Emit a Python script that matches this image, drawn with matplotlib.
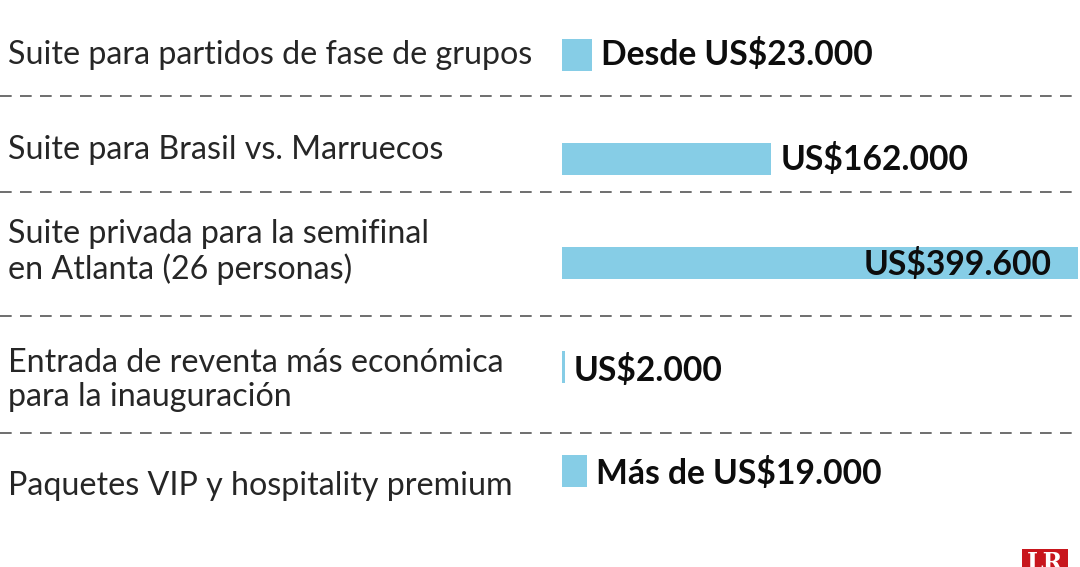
import matplotlib
matplotlib.use("Agg")
import matplotlib.pyplot as plt
from matplotlib.transforms import blended_transform_factory, ScaledTranslation
from matplotlib.patches import Rectangle

# ---- data ----
categories = [
    "Suite para partidos de fase de grupos",
    "Suite para Brasil vs. Marruecos",
    "Suite privada para la semifinal\nen Atlanta (26 personas)",
    "Entrada de reventa más económica\npara la inauguración",
    "Paquetes VIP y hospitality premium",
]
values = [23000, 162000, 399600, 2000, 19000]
value_labels = [
    "Desde US$23.000",
    "US$162.000",
    "US$399.600",
    "US$2.000",
    "Más de US$19.000",
]

# ---- layout ----
W, H, DPI = 1080, 567, 100
bar_color = "#86cde6"
label_offsets_px = [0, -9, -11, 13, 15]       # vertical shift of labels vs bar centre
value_offsets_px = [-1, 0, 1, 3, 2]
separators = [0.394, 1.317, 2.51, 3.635]      # between-row dashed lines (row units)
inside = [False, False, True, False, False]

fig = plt.figure(figsize=(W / DPI, H / DPI), dpi=DPI)
fig.patch.set_facecolor("white")
x0, x1 = 562 / W, 1078 / W
ax = fig.add_axes([x0, 0, x1 - x0, 1])
ax.set_xlim(0, max(values))
ax.set_ylim(4.923, -0.529)
ax.axis("off")

ypos = list(range(len(values)))
ax.barh(ypos, values, height=0.317, color=bar_color, edgecolor="none")

label_font = dict(family=["Lato", "DejaVu Sans"], weight="normal", size=23.2, color="#262626")
value_font = dict(family=["Lato", "DejaVu Sans"], weight="bold", size=24.2, color="#0d0d0d")

lab_tr = blended_transform_factory(fig.transFigure, ax.transData)
for i, (cat, off) in enumerate(zip(categories, label_offsets_px)):
    tr = lab_tr + ScaledTranslation(0, -off / DPI, fig.dpi_scale_trans)
    ax.text(8 / W, i, cat, transform=tr, ha="left", va="center",
            linespacing=1.18, **label_font)

for i, (v, lab, ins, off) in enumerate(zip(values, value_labels, inside, value_offsets_px)):
    if ins:
        tr = ax.transData + ScaledTranslation(-26 / DPI, -off / DPI, fig.dpi_scale_trans)
        ax.text(v, i, lab, transform=tr, ha="right", va="center", **value_font)
    else:
        tr = ax.transData + ScaledTranslation(9 / DPI, -off / DPI, fig.dpi_scale_trans)
        ax.text(v, i, lab, transform=tr, ha="left", va="center", **value_font)

sep_tr = blended_transform_factory(fig.transFigure, ax.transData)
for s in separators:
    ax.plot([0, 1], [s, s], transform=sep_tr, color="#555555", lw=1.2,
            linestyle=(0, (7, 5)), clip_on=False)

# logo (partially cropped at bottom, as in the reference)
logo = Rectangle((1022 / W, 0), 46 / W, 18 / H, transform=fig.transFigure,
                 facecolor="#c8161d", edgecolor="none")
fig.patches.append(logo)
t = fig.text(1045 / W, -8 / H, "LR", ha="center", va="bottom", color="white",
             family="DejaVu Serif", weight="bold", size=17)
t.set_clip_path(logo)

fig.savefig("out.png", dpi=DPI, facecolor="white")
